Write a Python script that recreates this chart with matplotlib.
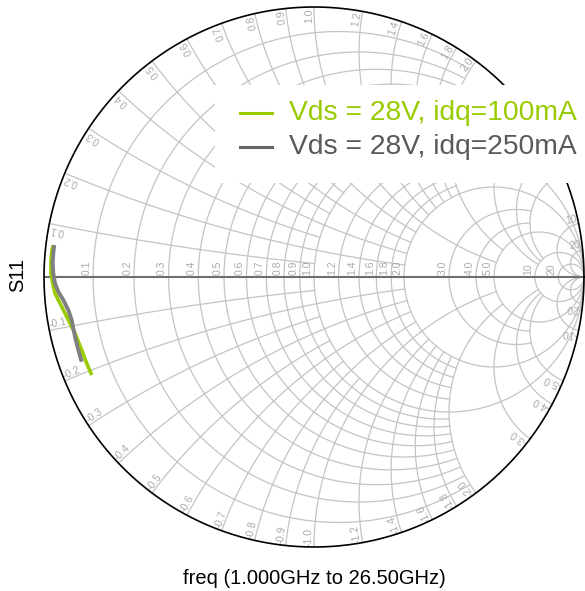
import numpy as np
import matplotlib
matplotlib.use('Agg')
import matplotlib.pyplot as plt
from matplotlib.patches import Rectangle
from matplotlib.lines import Line2D

plt.rcParams['font.family'] = ['Liberation Sans', 'DejaVu Sans']

# ---------------- data: S11 (reflection coefficient) ----------------
s11_100_re = [-0.9656, -0.9704, -0.9741, -0.9741, -0.9678, -0.9593, -0.9407,
              -0.9222, -0.9037, -0.8852, -0.8604, -0.8419, -0.8233]
s11_100_im = [0.1185, 0.1000, 0.0630, 0.0137, -0.0233, -0.0604, -0.0974,
              -0.1344, -0.1715, -0.2085, -0.2704, -0.3196, -0.3630]
s11_250_re = [-0.9619, -0.9656, -0.9678, -0.9656, -0.9593, -0.9470, -0.9285,
              -0.9100, -0.8974, -0.8852, -0.8730, -0.8604]
s11_250_im = [0.1185, 0.0878, 0.0507, 0.0137, -0.0233, -0.0544, -0.0852,
              -0.1222, -0.1593, -0.2211, -0.2704, -0.3137]

series_labels = ['Vds = 28V, idq=100mA', 'Vds = 28V, idq=250mA']
series_colors = ['#99cc00', '#808080']
legend_text_colors = ['#99cc00', '#5a5a5a']
legend_line_colors = ['#99cc00', '#666666']

# Smith grid values and their truncation limits (None = full)
r_grid = [0.1, 0.2, 0.3, 0.4, 0.5, 0.6, 0.7, 0.8, 0.9, 1.0,
          1.2, 1.4, 1.6, 1.8, 2.0, 3.0, 4.0, 5.0, 10.0, 20.0]
r_limits = [2, 2, 2, 2, 2, 2, 2, 2, 2, None,
            2, 2, 2, 2, None, 5, 5, None, None, None]
x_grid = [0.1, 0.2, 0.3, 0.4, 0.5, 0.6, 0.7, 0.8, 0.9, 1.0,
          1.2, 1.4, 1.6, 1.8, 2.0, 3.0, 4.0, 5.0, 10.0, 20.0]
x_limits = [1, 2, 1, 2, 1, 2, 1, 2, 1, 5,
            2, 2, 2, 2, 5, 10, 10, 10, None, None]
tick_labels = ['0.1', '0.2', '0.3', '0.4', '0.5', '0.6', '0.7', '0.8', '0.9', '1.0',
               '1.2', '1.4', '1.6', '1.8', '2.0', '3.0', '4.0', '5.0', '10', '20']

W, H = 585, 591
fig = plt.figure(figsize=(W / 100, H / 100), dpi=100)
fig.patch.set_facecolor('white')
cx, cy, R = 314, 277, 270
ax = fig.add_axes([(cx - R) / W, (H - cy - R) / H, 2 * R / W, 2 * R / H])
ax.set_xlim(-1, 1)
ax.set_ylim(-1, 1)
ax.set_axis_off()

GRID = '#c4c4c4'
LW = 0.9


def gam(z):
    return (z - 1) / (z + 1)


for r, lim in zip(r_grid, r_limits):
    if lim is None:
        ph = np.linspace(0, 2 * np.pi, 720)
        c, rad = r / (1 + r), 1 / (1 + r)
        ax.plot(c + rad * np.cos(ph), rad * np.sin(ph), color=GRID, lw=LW, zorder=1)
    else:
        t = np.linspace(-np.arctan(lim), np.arctan(lim), 600)
        g = gam(r + 1j * np.tan(t))
        ax.plot(g.real, g.imag, color=GRID, lw=LW, zorder=1)

for x, lim in zip(x_grid, x_limits):
    tmax = np.pi / 2 - 1e-4 if lim is None else np.arctan(lim)
    t = np.linspace(0, tmax, 600)
    rr = np.tan(t)
    for s in (1, -1):
        g = gam(rr + 1j * s * x)
        ax.plot(g.real, g.imag, color=GRID, lw=LW, zorder=1)

# real axis
ax.plot([-1, 1], [0, 0], color='#6e6e6e', lw=1.5, zorder=2)
# outer circle
ph = np.linspace(0, 2 * np.pi, 1000)
ax.plot(np.cos(ph), np.sin(ph), color='black', lw=1.2, zorder=3, clip_on=False)

LBL = '#aaaaaa'
FS = 7.5
px = 2.0 / (2 * R)
for r, lab in zip(r_grid, tick_labels):
    g = (r - 1) / (r + 1)
    ax.text(g - 1.5 * px, 2 * px, lab, rotation=90, ha='right', va='bottom',
            fontsize=FS, color=LBL, zorder=2)

for x, lab in zip(x_grid, tick_labels):
    g = gam(1j * x) * 0.996
    th = np.degrees(np.angle(g))
    ax.text(g.real, g.imag, lab, rotation=th, rotation_mode='anchor',
            ha='right', va='bottom', fontsize=FS, color=LBL, zorder=2)
    gn = np.conj(g)
    thn = -th
    ax.text(gn.real, gn.imag, '-' + lab, rotation=thn + 180, rotation_mode='anchor',
            ha='left', va='bottom', fontsize=FS, color=LBL, zorder=2)

# traces
ax.plot(s11_100_re, s11_100_im, color=series_colors[0], lw=2.6, zorder=4,
        solid_capstyle='butt', solid_joinstyle='round')
ax.plot(s11_250_re, s11_250_im, color=series_colors[1], lw=2.8, zorder=4,
        solid_capstyle='butt', solid_joinstyle='round')

# legend box
fig.patches.append(Rectangle((215 / W, 1 - 183 / H), (W - 215) / W, (183 - 85) / H,
                             transform=fig.transFigure, facecolor='white',
                             edgecolor='none', zorder=5))
for i, (lab, yy) in enumerate(zip(series_labels, [112.5, 146.5])):
    fig.lines.append(Line2D([240 / W, 272 / W], [1 - yy / H, 1 - yy / H],
                            transform=fig.transFigure, color=legend_line_colors[i],
                            lw=2.2, zorder=6))
    fig.text(289 / W, 1 - yy / H, lab, fontsize=20.3, color=legend_text_colors[i],
             ha='left', va='center', zorder=6)

fig.text(18 / W, 1 - 275 / H, 'S11', rotation=90, ha='center', va='center',
         fontsize=14.5, color='black')
fig.text(314 / W, 1 - 578 / H, 'freq (1.000GHz to 26.50GHz)', ha='center',
         va='center', fontsize=14.5, color='black')

fig.savefig('out.png', dpi=100, facecolor='white')
